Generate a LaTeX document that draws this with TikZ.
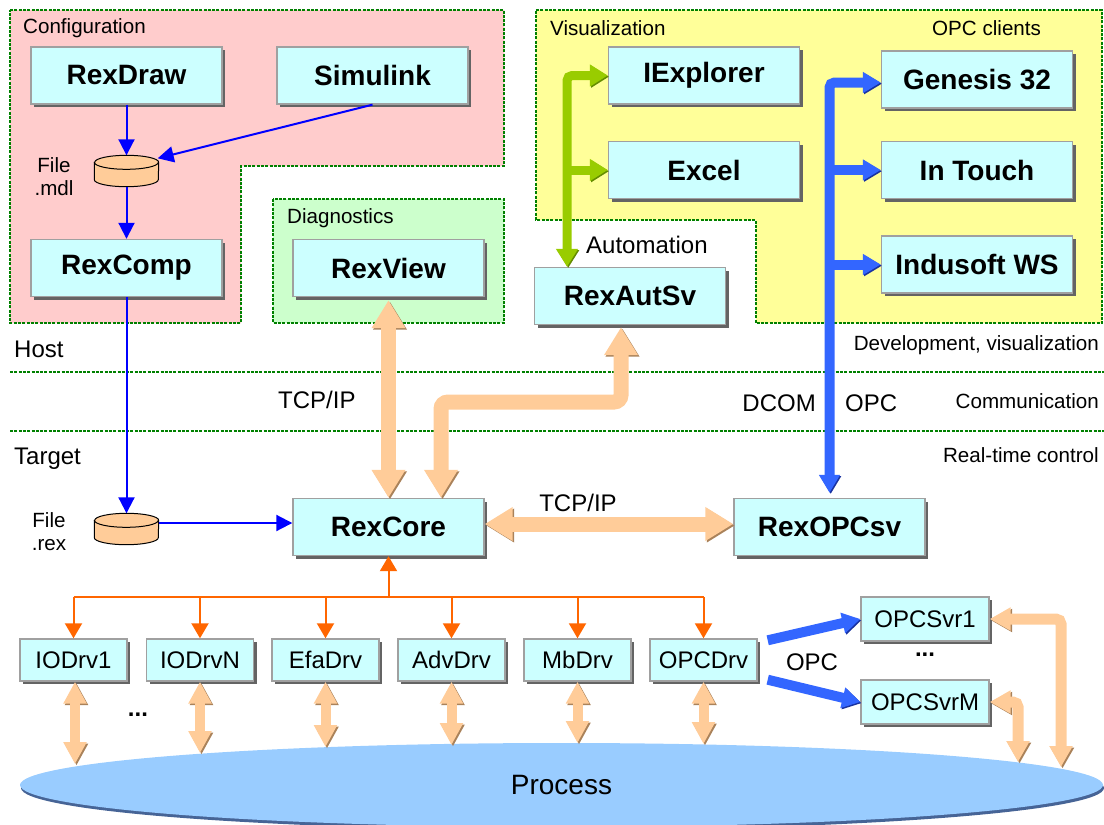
\documentclass[tikz,border=0pt]{standalone}
\usepackage{fontspec}
\setmainfont{Liberation Sans}
\usepackage{tikz}
\usetikzlibrary{arrows.meta,positioning,shapes.geometric,shadows,calc}
\definecolor{PinkBg}{RGB}{255,204,204}
\definecolor{MintBg}{RGB}{204,255,204}
\definecolor{LemonBg}{RGB}{255,255,153}
\definecolor{ZoneGreen}{RGB}{0,128,0}
\definecolor{BoxFill}{RGB}{204,255,255}
\definecolor{BoxEdge}{RGB}{160,160,160}
\definecolor{BoxShade}{RGB}{100,100,100}
\definecolor{Peach}{RGB}{255,204,153}
\definecolor{PeachDark}{RGB}{170,130,90}
\definecolor{Lime}{RGB}{153,204,0}
\definecolor{LimeDark}{RGB}{100,140,0}
\definecolor{Royal}{RGB}{51,102,255}
\definecolor{RoyalDark}{RGB}{25,50,160}
\definecolor{PureBlue}{RGB}{0,0,255}
\definecolor{BusOrange}{RGB}{255,102,0}
\definecolor{Sky}{RGB}{153,204,255}
\definecolor{SkyDark}{RGB}{70,100,150}

\begin{document}
\begin{tikzpicture}[
  x=1pt, y=-1pt,
  zone/.style={draw=ZoneGreen, line width=2.6pt, dash pattern=on 3pt off 1.3pt},
  app/.style={
    draw=BoxEdge,
    line width=1.4pt,
    fill=BoxFill,
    minimum width=191pt,
    minimum height=57pt,
    inner sep=0pt,
    font=\fontsize{28}{32}\selectfont\bfseries,
    drop shadow={shadow xshift=3pt, shadow yshift=-3pt, fill=BoxShade, opacity=1}
  },
  drv/.style={app, minimum width=107pt, minimum height=42pt, font=\fontsize{24}{28}\selectfont},
  srv/.style={app, minimum width=128pt, minimum height=44pt, font=\fontsize{24}{28}\selectfont},
  disk/.style={minimum width=64pt, minimum height=31pt, inner sep=0pt},
  diskface/.style={fill=Peach, draw=black, line width=1pt},
  lab/.style={inner sep=0pt, font=\fontsize{20.6}{23}\selectfont},
  biglab/.style={inner sep=0pt, font=\fontsize{24}{28}\selectfont},
  link/.style={draw=PureBlue, line width=2pt, -{Triangle[length=16pt,width=16pt]}},
  bus/.style={draw=BusOrange, line width=2pt},
  busarr/.style={bus, -{Triangle[length=15pt,width=17pt]}},
  pipe/.style={draw=Peach, line width=15pt, rounded corners=7pt,
    >={Triangle[length=28pt,width=32pt]},
    preaction={draw=PeachDark, transform canvas={shift={(1.5pt,-1.5pt)}}}},
  dpipe/.style={pipe, line width=10pt, >={Triangle[length=22pt,width=22pt]}},
  spipe/.style={pipe, line width=11pt, rounded corners=5pt, >={Triangle[length=21pt,width=22pt]}},
  gpipe/.style={draw=Lime, line width=9pt, rounded corners=5pt,
    >={Triangle[length=18pt,width=21pt]},
    preaction={draw=LimeDark, transform canvas={shift={(1.2pt,-1.2pt)}}}},
  bpipe/.style={draw=Royal, line width=10pt, rounded corners=5pt,
    >={Triangle[length=18pt,width=20pt]},
    preaction={draw=RoyalDark, transform canvas={shift={(1.2pt,-1.2pt)}}}}
]
\useasboundingbox (0,0) rectangle (1104,825);

% zones
\draw[zone, fill=PinkBg] (10,10) -- (504,10) -- (504,166) -- (241,166) -- (241,323) -- (10,323) -- cycle;
\draw[zone, fill=MintBg] (273,199) rectangle (504,323);
\draw[zone, fill=LemonBg] (536,10) -- (1102,10) -- (1102,323) -- (756,323) -- (756,220) -- (536,220) -- cycle;
\draw[zone] (10,372) -- (1104,372);
\draw[zone] (10,431) -- (1104,431);

\node[lab, anchor=west] (cfgTitle) at (23,28) {Configuration};
\node[lab, anchor=west] (diagTitle) at (287,218) {Diagnostics};
\node[lab, anchor=west] (visTitle) at (550,28) {Visualization};
\node[lab, anchor=west] (opcTitle) at (932,28) {OPC clients};
\node[biglab, anchor=west] (autoTitle) at (586,245) {Automation};
\node[biglab, anchor=west] (host) at (14,349) {Host};
\node[biglab, anchor=west] (target) at (14,459) {Target};
\node[lab, anchor=east] (devLayer) at (1099,345) {Development, visualization};
\node[lab, anchor=east] (comLayer) at (1099,401) {Communication};
\node[lab, anchor=east] (rtLayer) at (1099,455) {Real-time control};
\node[biglab, anchor=west] (tcpHost) at (278,400) {TCP/IP};
\node[biglab, anchor=east] (dcom) at (816,403) {DCOM};
\node[biglab, anchor=west] (opcCom) at (845,403) {OPC};
\node[biglab] (tcpTarget) at (578,503) {TCP/IP};
\node[biglab] (opcTarget) at (812,662) {OPC};
\node[biglab] (drvDots) at (138,715) {\textbf{...}};
\node[biglab] (srvDots) at (925,655) {\textbf{...}};
\node[lab, align=center] (mdlName) at (54,177) {File\\.mdl};
\node[lab, align=center] (rexName) at (49,532) {File\\.rex};

% process
\node[ellipse, fill=Sky, minimum width=1083pt, minimum height=84pt, inner sep=0pt,
  drop shadow={shadow xshift=1pt, shadow yshift=-3pt, fill=SkyDark, opacity=1},
  font=\fontsize{28}{32}\selectfont] (Process) at (561.5,785) {Process};

% applications
\node[app] (RexDraw) at (126.5,75.5) {RexDraw};
\node[app] (Simulink) at (372.5,75.5) {Simulink};
\node[disk] (mdl) at (126.5,171) {};
\node[app] (RexComp) at (126.5,268) {RexComp};
\node[app] (RexView) at (388.5,268) {RexView};
\node[app] (IExplorer) at (704,75.5) {IExplorer};
\node[app] (Excel) at (704,170) {Excel};
\node[app] (Genesis) at (977,79.5) {Genesis 32};
\node[app] (InTouch) at (977,170) {In Touch};
\node[app] (Indusoft) at (977,264.5) {Indusoft WS};
\node[app] (RexAutSv) at (630,296) {RexAutSv};
\node[app] (RexCore) at (388.5,527) {RexCore};
\node[app] (RexOPCsv) at (829.5,527) {RexOPCsv};
\node[disk] (rex) at (126.5,529) {};

% file disks
\foreach \d in {mdl,rex} {
  \filldraw[diskface] ([yshift=-7pt]\d.north west) -- ([yshift=7pt]\d.south west)
    arc[start angle=180, end angle=360, x radius=32pt, y radius=7pt]
    -- ([yshift=-7pt]\d.north east)
    arc[start angle=0, end angle=180, x radius=32pt, y radius=7pt] -- cycle;
  \draw[diskface, fill=none] ([yshift=-7pt]\d.north west)
    arc[start angle=180, end angle=360, x radius=32pt, y radius=7pt];
}

% drivers
\node[drv] (IODrv1) at (73.5,660) {IODrv1};
\node[drv] (IODrvN) at (200,660) {IODrvN};
\node[drv] (EfaDrv) at (325.5,660) {EfaDrv};
\node[drv] (AdvDrv) at (451.5,660) {AdvDrv};
\node[drv] (MbDrv) at (577.5,660) {MbDrv};
\node[drv] (OPCDrv) at (703.5,660) {OPCDrv};
\node[srv] (OPCSvr1) at (925,619) {OPCSvr1};
\node[srv] (OPCSvrM) at (925,702) {OPCSvrM};

\coordinate (hop) at (441,402);
\coordinate (gtrunk) at ([xshift=-63pt]RexAutSv.north);
\coordinate (busMid) at (388.5,597);
\coordinate (rim1) at (75,764);
\coordinate (rim2) at (200,753);
\coordinate (rim3) at (325.5,747);
\coordinate (rim4) at (451.5,745);
\coordinate (rim5) at (577.5,743);
\coordinate (rim6) at (703.5,744);
\coordinate (rimS1) at (1061,767);
\coordinate (rimSM) at (1018,762);

% file flow
\draw[link] (RexDraw) -- (mdl);
\draw[link] (Simulink.south) -- ([xshift=-1pt,yshift=-3pt]mdl.north east);
\draw[link] (mdl) -- (RexComp);
\draw[link] (RexComp) -- (rex);
\draw[link] ([yshift=6pt]rex.east) -- ([yshift=6pt]rex.east -| RexCore.west);

% tcp/ip
\draw[pipe, <->, shorten <=3pt] (RexView.south) -- (RexCore.north);
\draw[pipe, <->, shorten <=2pt] ([xshift=-9pt]RexAutSv.south) |- (hop) -- (hop |- RexCore.north);
\draw[pipe, <->] ([yshift=3pt]RexCore.east) -- ([yshift=3pt]RexOPCsv.west);

% automation and opc clients
\draw[gpipe, <->] (gtrunk) |- (IExplorer.west);
\draw[gpipe, ->] (gtrunk |- Excel.west) -- (Excel.west);
\draw[bpipe, <->, shorten <=5pt] (RexOPCsv.north) |- ([yshift=-3pt]Genesis.west);
\draw[bpipe, ->] (RexOPCsv.north |- InTouch.west) -- (InTouch.west);
\draw[bpipe, ->] (RexOPCsv.north |- Indusoft.west) -- (Indusoft.west);

% driver bus
\draw[busarr] (busMid) -- (RexCore.south);
\draw[bus] (IODrv1.north |- busMid) -- (OPCDrv.north |- busMid);
\draw[busarr] (IODrv1.north |- busMid) -- (IODrv1.north);
\draw[busarr] (IODrvN.north |- busMid) -- (IODrvN.north);
\draw[busarr] (EfaDrv.north |- busMid) -- (EfaDrv.north);
\draw[busarr] (AdvDrv.north |- busMid) -- (AdvDrv.north);
\draw[busarr] (MbDrv.north |- busMid) -- (MbDrv.north);
\draw[busarr] (OPCDrv.north |- busMid) -- (OPCDrv.north);

% process i/o
\draw[dpipe, <->] (IODrv1.south -| rim1) -- (rim1);
\draw[dpipe, <->] (IODrvN.south) -- (rim2);
\draw[dpipe, <->] (EfaDrv.south) -- (rim3);
\draw[dpipe, <->] (AdvDrv.south) -- (rim4);
\draw[dpipe, <->] (MbDrv.south) -- (rim5);
\draw[dpipe, <->] (OPCDrv.south) -- (rim6);
\draw[bpipe, ->] ([xshift=10pt,yshift=-2pt]OPCDrv.north east) -- (OPCSvr1.west);
\draw[bpipe, ->] ([xshift=10pt,yshift=2pt]OPCDrv.south east) -- (OPCSvrM.west);
\draw[spipe, <->] (OPCSvr1.east) -| (rimS1);
\draw[spipe, <->] (OPCSvrM.east) -| (rimSM);
\end{tikzpicture}
\end{document}
